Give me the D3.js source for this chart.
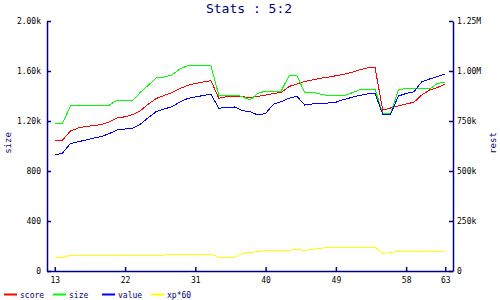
<!DOCTYPE html>
<html>
<head>
<meta charset="utf-8">
<script src="https://cdn.jsdelivr.net/npm/d3@7"></script>
<style>
  body { margin: 0; background: #fff; }
  text { font-family: "DejaVu Sans Mono", monospace; }
</style>
</head>
<body>
<div id="vis"></div>
<script>
// chart data
const days = d3.range(13, 64); // 13 .. 63
const score = [1040,1048,1120,1144,1156,1164,1172,1192,1224,1234,1252,1284,1336,1380,1404,1428,1460,1484,1500,1512,1522,
  1382,1394,1394,1394,1388,1396,1408,1420,1428,1476,1496,1516,1528,1542,1550,1562,1574,1588,1608,1624,1632,
  1288,1304,1320,1336,1350,1408,1448,1468,1494];
const size = [1182,1182,1320,1328,1328,1328,1328,1328,1368,1368,1368,1432,1488,1544,1552,1568,1616,1642,1642,1642,1640,
  1408,1408,1408,1396,1368,1420,1440,1440,1440,1562,1562,1430,1430,1416,1402,1402,1402,1424,1448,1456,1456,
  1264,1264,1448,1462,1462,1462,1456,1500,1512];
const value = [928,944,1020,1034,1048,1064,1076,1100,1128,1136,1142,1176,1228,1276,1296,1314,1352,1380,1392,1404,1414,
  1302,1308,1312,1284,1274,1248,1260,1334,1354,1382,1398,1328,1336,1340,1344,1350,1372,1388,1404,1416,1422,
  1254,1254,1400,1420,1434,1514,1536,1556,1576];
const xp60 = [110,110,126,128,128,128,128,128,128,128,128,128,128,128,128,132,136,136,136,136,136,
  110,110,110,142,148,156,164,164,164,166,172,166,174,180,192,192,192,192,192,192,192,
  142,146,158,158,158,158,158,158,158];

const seriesNames = ['score', 'size', 'value', 'xp*60'];
const seriesColors = ['#ff0000', '#00ff00', '#0000ff', '#ffff00'];
const seriesValues = [score, size, value, xp60];

const xTicks = [13, 22, 31, 40, 49, 58, 63];
const leftTicks = [0, 400, 800, 1200, 1600, 2000];
const leftLabels = ['0', '400', '800', '1.20k', '1.60k', '2.00k'];
const rightTicks = [0, 250000, 500000, 750000, 1000000, 1250000];
const rightLabels = ['0', '250k', '500k', '750k', '1.00M', '1.25M'];

const W = 500, H = 300;
const navy = '#000080';

let svg = d3.select('#vis')
  .append('svg')
    .attr('width', W)
    .attr('height', H);

let xScale = d3.scaleLinear().domain([12, 64]).range([47, 453]);
let yLeft = d3.scaleLinear().domain([0, 2000]).range([271, 21]);
let yRight = d3.scaleLinear().domain([0, 1250000]).range([271, 21]);

// title
svg.append('text')
  .attr('x', 249)
  .attr('y', 13)
  .attr('text-anchor', 'middle')
  .style('font-size', '13px')
  .style('fill', navy)
  .text('Stats : 5:2');

// lines
let line = d3.line()
  .x((d, i) => xScale(days[i]))
  .y(d => yLeft(d));

seriesValues.forEach(function(vals, k) {
  svg.append('path')
    .attr('d', line(vals))
    .attr('fill', 'none')
    .attr('stroke', seriesColors[k])
    .attr('stroke-width', 1)
    .style('shape-rendering', 'crispEdges');
});

// axes
function styleAxis(g) {
  g.select('.domain').attr('stroke', navy).attr('stroke-width', 1.5);
  g.selectAll('.tick line').attr('stroke', navy).attr('stroke-width', 1.5);
  g.selectAll('.tick text').style('font-size', '8px').style('font-family', '"DejaVu Sans Mono", monospace').attr('fill', '#000');
}

svg.append('g')
  .attr('transform', 'translate(0,271)')
  .call(d3.axisBottom(xScale).tickValues(xTicks).tickSize(-4).tickSizeOuter(0).tickPadding(6))
  .call(styleAxis);

svg.append('g')
  .attr('transform', 'translate(47,0)')
  .call(d3.axisLeft(yLeft).tickValues(leftTicks).tickFormat((d, i) => leftLabels[i]).tickSize(-4).tickSizeOuter(0).tickPadding(6))
  .call(styleAxis);

svg.append('g')
  .attr('transform', 'translate(453,0)')
  .call(d3.axisRight(yRight).tickValues(rightTicks).tickFormat((d, i) => rightLabels[i]).tickSize(-4).tickSizeOuter(0).tickPadding(4))
  .call(styleAxis);

// axis labels
svg.append('text')
  .attr('transform', 'translate(11,143) rotate(-90)')
  .attr('text-anchor', 'middle')
  .style('font-size', '9px')
  .style('fill', navy)
  .text('size');

svg.append('text')
  .attr('transform', 'translate(496,143) rotate(-90)')
  .attr('text-anchor', 'middle')
  .style('font-size', '9px')
  .style('fill', navy)
  .text('rest');

// legend
let legend = svg.append('g');
seriesNames.forEach(function(name, k) {
  let x0 = 4 + k * 49;
  legend.append('line')
    .attr('x1', x0).attr('x2', x0 + 13)
    .attr('y1', 294.5).attr('y2', 294.5)
    .attr('stroke', seriesColors[k])
    .attr('stroke-width', 2);
  legend.append('text')
    .attr('x', x0 + 16)
    .attr('y', 297.5)
    .style('font-size', '8px')
    .style('fill', navy)
    .text(name);
});
</script>
</body>
</html>
